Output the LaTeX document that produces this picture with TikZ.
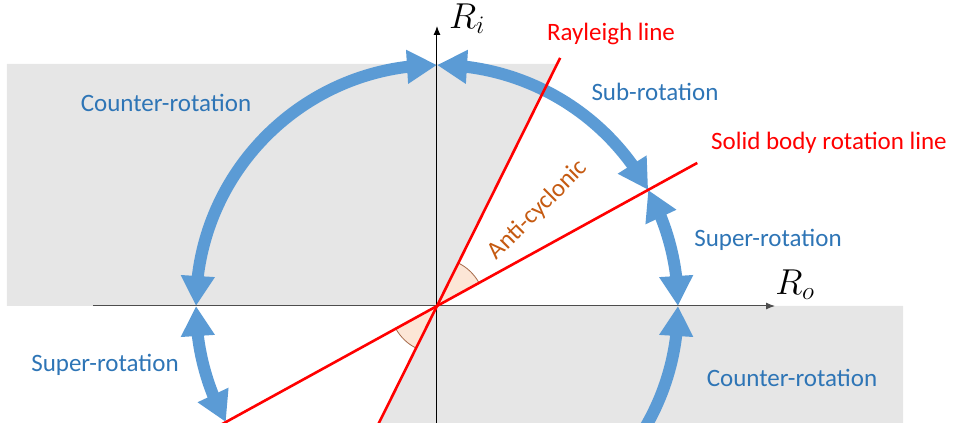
\RequirePackage{fix-cm}
\documentclass[tikz,border=0pt]{standalone}
\usepackage{fontspec}
\setmainfont{Carlito}
\usetikzlibrary{arrows.meta,bending}
\definecolor{arcblue}{HTML}{5B9BD5}
\definecolor{txtblue}{HTML}{2E75B6}
\definecolor{bg}{HTML}{E6E6E6}
\definecolor{anti}{HTML}{C55A11}
\definecolor{wedge}{HTML}{FCE6D6}
\definecolor{wedgeline}{HTML}{A5694A}
\definecolor{xaxis}{HTML}{4D4D4D}
\tikzset{bigtip/.tip={Triangle[width=32pt,length=30pt]}}
\begin{document}
\begin{tikzpicture}[x=1pt,y=1pt,
  lbl/.style={font=\fontsize{25}{30}\selectfont, inner sep=0pt},
  bluelbl/.style={lbl,text=txtblue},
  redlbl/.style={lbl,text=red},
  mathlbl/.style={font=\fontsize{36}{40}\selectfont, inner sep=0pt},
  bluearc/.style={draw=arcblue,line width=12pt},
  redline/.style={draw=red,line width=2.6pt},
  axisline/.style={line width=1pt,-{Latex[length=9pt,width=7pt]}},
  angarc/.style={draw=wedgeline,line width=0.8pt},
]
\useasboundingbox (-437,-117) rectangle (519,306);
\clip (-437,-117) rectangle (519,306);
% key points
\coordinate (O) at (0,0);
\coordinate (T) at (90:241);
\coordinate (L) at (180:241);
\coordinate (Rt) at (0:241);
\coordinate (S) at (28.8:241);
\coordinate (Bm) at (-90:241);
\coordinate (LL) at (208.8:241);
% gray regions
\fill[bg] (-430,242) -- (120,242) -- (O) -- (-430,0) -- cycle;
\fill[bg] (O) -- (243.6:160) -- (466,-160) -- (466,0) -- cycle;
% angle wedges
\fill[wedge] (O) -- (28.8:48) arc[start angle=28.8,end angle=63.6,radius=48] -- cycle;
\fill[wedge] (O) -- (208.8:47) arc[start angle=208.8,end angle=243.6,radius=47] -- cycle;
\draw[angarc] (28.8:48) arc[start angle=28.8,end angle=63.6,radius=48];
\draw[angarc] (208.8:47) arc[start angle=208.8,end angle=243.6,radius=47];
% axes
\coordinate (xs) at (-344,0);
\coordinate (xe) at (338,0);
\coordinate (ys) at (0,-130);
\coordinate (ye) at (0,280);
\draw[axisline,draw=xaxis] (xs) -- (xe);
\draw[axisline] (ys) -- (ye);
% blue arcs
\draw[bluearc,{bigtip}-{bigtip}] (T) arc[start angle=90,end angle=180,radius=241];
\draw[bluearc,{bigtip}-{bigtip}] (T) arc[start angle=90,end angle=28.8,radius=241];
\draw[bluearc,{bigtip}-{bigtip}] (S) arc[start angle=28.8,end angle=0,radius=241];
\draw[bluearc,-{bigtip}] (Bm) arc[start angle=-90,end angle=0,radius=241];
\draw[bluearc,{bigtip}-{bigtip}] (L) arc[start angle=180,end angle=208.8,radius=241];
% red lines
\coordinate (ray1) at (63.6:277);
\coordinate (ray2) at (243.6:160);
\coordinate (sol1) at (28.8:297);
\coordinate (sol2) at (208.8:280);
\draw[redline] (ray2) -- (ray1);
\draw[redline] (sol2) -- (sol1);
% labels
\node[bluelbl] (cr1) at (-271,203) {Counter-rotation};
\node[bluelbl] (sub) at (218,214) {Sub-rotation};
\node[bluelbl] (sr1) at (331,66) {Super-rotation};
\node[bluelbl] (sr2) at (-332,-59) {Super-rotation};
\node[bluelbl] (cr2) at (355,-72) {Counter-rotation};
\node[redlbl] (ray) at (174,272) {Rayleigh line};
\node[redlbl] (sol) at (392,163) {Solid body rotation line};
\node[lbl,text=anti,rotate=45] (ac) at (101,96) {Anti-cyclonic};
\node[mathlbl] (ri) at (30,287) {$R_i$};
\node[mathlbl] (ro) at (358,21) {$R_o$};
\end{tikzpicture}
\end{document}
